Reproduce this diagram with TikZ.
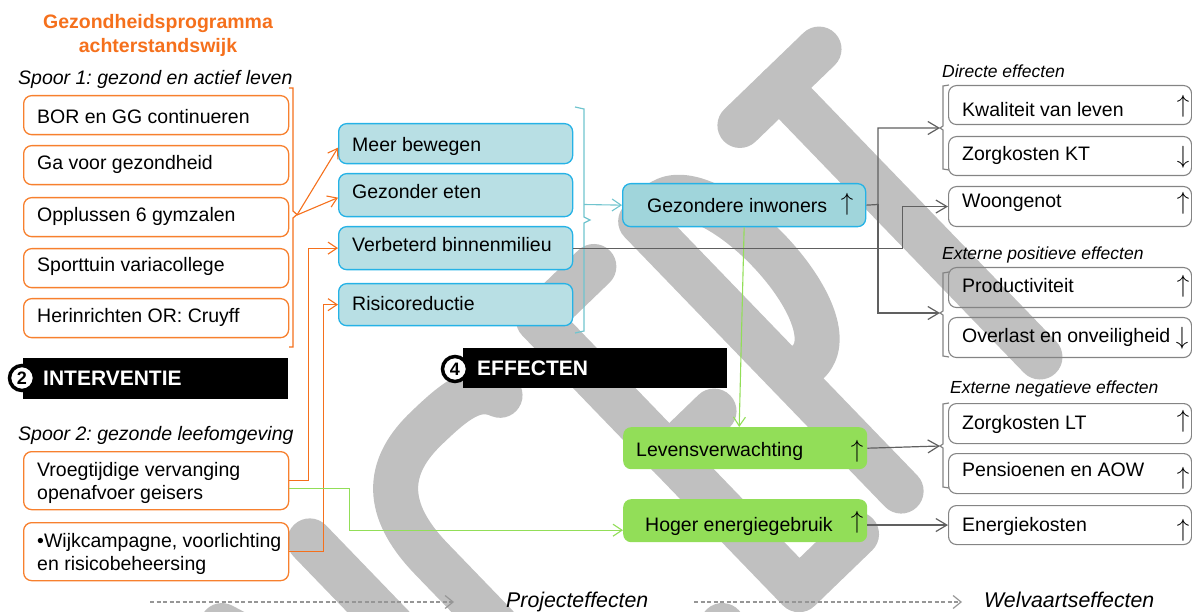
\documentclass[tikz,border=0pt]{standalone}
\usepackage{fontspec}
\setmainfont{Liberation Sans}
\usetikzlibrary{arrows.meta}
\frenchspacing

\definecolor{orangeT}{RGB}{245,112,28}
\definecolor{orangeL}{RGB}{247,128,46}
\definecolor{blueB}{RGB}{37,178,230}
\definecolor{blueF}{RGB}{184,223,228}
\definecolor{blueG}{RGB}{160,213,219}
\definecolor{tealL}{RGB}{112,196,206}
\definecolor{greenF}{RGB}{146,222,88}
\definecolor{greenL}{RGB}{146,222,88}
\definecolor{grayL}{RGB}{96,96,96}
\definecolor{grayB}{RGB}{132,132,132}
\definecolor{wmark}{RGB}{192,192,192}
\definecolor{dashG}{RGB}{150,150,150}

\tikzset{
  txt/.style={inner sep=0pt, anchor=base west, font=\fontsize{19.5}{23}\selectfont},
  ital/.style={inner sep=0pt, anchor=base west, font=\fontsize{19.5}{23}\selectfont\itshape},
  smallital/.style={inner sep=0pt, anchor=base west, font=\fontsize{17.5}{20}\selectfont\itshape},
  bigital/.style={inner sep=0pt, anchor=base west, font=\fontsize{21.3}{24}\selectfont\itshape},
  titletxt/.style={inner sep=0pt, anchor=base, text=orangeT, font=\fontsize{19.5}{23}\selectfont\bfseries},
  bartxt/.style={inner sep=0pt, anchor=base west, text=white, font=\fontsize{21}{24}\selectfont\bfseries},
  arrglyph/.style={inner sep=0pt, font=\fontsize{23}{23}\selectfont},
  boxbase/.style={inner sep=0pt, anchor=north west, rounded corners=8pt},
  obox/.style={boxbase, draw=orangeL, line width=1.3pt, fill=white, minimum width=265pt},
  bbox/.style={boxbase, draw=blueB, line width=1.3pt, fill=blueF, minimum width=234pt},
  gibox/.style={boxbase, draw=blueB, line width=1.3pt, fill=blueG, minimum width=243pt, minimum height=43pt},
  grbox/.style={boxbase, fill=greenF, minimum width=244pt},
  rbox/.style={boxbase, draw=grayB, line width=1.1pt, minimum width=243pt},
  blackbar/.style={inner sep=0pt, anchor=north west, fill=black},
  numdisc/.style={circle, draw=black, line width=3.5pt, fill=white, minimum size=25pt, inner sep=0pt, font=\fontsize{18}{18}\selectfont\bfseries},
  oarrow/.style={draw=orangeT, line width=1.1pt, -{Straight Barb[length=9pt,width=12pt]}},
  tarrow/.style={draw=tealL, line width=1.1pt, -{Straight Barb[length=9pt,width=12pt]}},
  grarrow/.style={draw=greenL, line width=1.1pt, -{Straight Barb[length=9pt,width=12pt]}},
  garrow/.style={draw=grayL, line width=1.2pt, -{Straight Barb[length=11pt,width=13pt]}},
  dasharrow/.style={draw=dashG, line width=1.2pt, dash pattern=on 4pt off 2.5pt, -{Straight Barb[length=8pt,width=13pt]}},
  brace/.style={line width=1.2pt},
  wmstroke/.style={draw=wmark, line width=45pt, line cap=round, line join=round},
}

\begin{document}
\begin{tikzpicture}[x=1pt, y=-1pt]
\useasboundingbox (0,0) rectangle (1192,612);

% background watermark: the word CONCEPT, drawn as rounded strokes on a tilted baseline
\begin{scope}
  \clip (0,0) rectangle (1192,612);
  \begin{scope}[shift={(1055.6,373.2)}, rotate=44, x=1pt, y=1pt]
    % N
    \draw[wmstroke] (-775,22.5) -- (-775,397.5) -- (-653,22.5) -- (-653,397.5);
    % C
    \draw[wmstroke] (-415,370) .. controls (-425,395) and (-450,397.5) .. (-492,397.5)
      .. controls (-555,397.5) and (-578,360) .. (-578,300) -- (-578,120)
      .. controls (-578,60) and (-555,22.5) .. (-492,22.5)
      .. controls (-450,22.5) and (-425,25) .. (-415,50);
    % E
    \draw[wmstroke] (-258,397.5) -- (-335,397.5) -- (-335,22.5) -- (-255,22.5);
    \draw[wmstroke] (-335,210) -- (-272,210);
    % P
    \draw[wmstroke] (-193,22.5) -- (-193,397.5) -- (-170,397.5)
      .. controls (-105,397.5) and (-105,180) .. (-170,180) -- (-193,180);
    % T
    \draw[wmstroke] (0,22.5) -- (0,397.5);
    \draw[wmstroke] (-55,397.5) -- (55,397.5);
  \end{scope}
\end{scope}

% ---------- interventions ----------
\node[titletxt] (t1) at (158,28.5) {Gezondheidsprogramma};
\node[titletxt] (t2) at (158,52.5) {achterstandswijk};

\node[ital] (sp1) at (18,85) {Spoor 1: gezond en actief leven};

\node[obox, minimum height=39pt] (bor) at (23,95) {};
\node[obox, minimum height=39pt] (gav) at (23,145) {};
\node[obox, minimum height=39pt] (opp) at (23,197) {};
\node[obox, minimum height=39pt] (spt) at (23,248) {};
\node[obox, minimum height=39pt] (her) at (23,298) {};
\node[txt] (borT) at (37,124) {BOR en GG continueren};
\node[txt] (gavT) at (37,170) {Ga voor gezondheid};
\node[txt] (oppT) at (37,222) {Opplussen 6 gymzalen};
\node[txt] (sptT) at (37,272) {Sporttuin variacollege};
\node[txt] (herT) at (37,323) {Herinrichten OR: Cruyff};

% right brace behind track 1
\draw[brace, orangeT] (289,88) -- (293,88) -- (293,211) -- (297,214.5) -- (293,218) -- (293,347) -- (289,347);
\coordinate (ob) at (297,215);

\node[blackbar, minimum width=265pt, minimum height=41pt] (ivbar) at (23,358) {};
\node[numdisc] (iv2) at (22,378) {2};
\node[bartxt] (ivT) at (43,385.5) {INTERVENTIE};

\node[ital] (sp2) at (18,440) {Spoor 2: gezonde leefomgeving};

\node[obox, minimum height=58pt] (vr) at (23,451) {};
\node[txt] (vrT1) at (37,476) {Vroegtijdige vervanging};
\node[txt] (vrT2) at (37,499) {openafvoer geisers};
\node[obox, minimum height=58pt] (wk) at (23,522) {};
\node[txt] (wkT1) at (37,547) {•Wijkcampagne, voorlichting};
\node[txt] (wkT2) at (37,570) {en risicobeheersing};

% ---------- project effects ----------
\node[bbox, minimum height=40pt] (mb) at (338,123) {};
\node[bbox, minimum height=43pt] (ge) at (338,173) {};
\node[bbox, minimum height=43pt] (vb) at (338,226) {};
\node[bbox, minimum height=42pt] (rr) at (338,283) {};
\node[txt] (mbT) at (352,151.5) {Meer bewegen};
\node[txt] (geT) at (352,199) {Gezonder eten};
\node[txt] (vbT) at (352,251.5) {Verbeterd binnenmilieu};
\node[txt] (rrT) at (352,311) {Risicoreductie};

\draw[brace, tealL] (575,107) -- (584,109) -- (584,217) -- (590,220) -- (584,223) -- (584,331) -- (575,333);
\coordinate (tb) at (584,204.5);

\node[gibox] (gi) at (622,183) {};
\node[txt] (giT) at (647,212.5) {Gezondere inwoners};
\node[arrglyph] (giA) at (847,204) {$\uparrow$};

\node[grbox, minimum height=42pt] (lv) at (623,427) {};
\node[txt] (lvT) at (636,456.5) {Levensverwachting};
\node[arrglyph] (lvA) at (857,451) {$\uparrow$};

\node[grbox, minimum height=43pt] (he) at (623,499) {};
\node[txt] (heT) at (645,531.5) {Hoger energiegebruik};
\node[arrglyph] (heA) at (857,522) {$\uparrow$};

\node[blackbar, minimum width=264pt, minimum height=40pt] (efbar) at (463,348) {};
\node[numdisc] (ef4) at (455,369) {4};
\node[bartxt] (efT) at (477,376) {EFFECTEN};

% ---------- welfare effects ----------
\node[smallital] (dirL) at (942,78) {Directe effecten};
\node[smallital] (posL) at (942,260) {Externe positieve effecten};
\node[smallital] (negL) at (950,393) {Externe negatieve effecten};

\node[rbox, minimum height=39pt] (kw) at (948,85) {};
\node[rbox, minimum height=39pt] (zk) at (948,136) {};
\node[rbox, minimum height=40pt] (wo) at (948,186) {};
\node[rbox, minimum height=40pt] (pr) at (948,267) {};
\node[rbox, minimum height=40pt] (ov) at (948,317) {};
\node[rbox, minimum height=40pt] (zl) at (948,403) {};
\node[rbox, minimum height=40pt] (pe) at (948,453) {};
\node[rbox, minimum height=39pt] (ek) at (948,505) {};

\node[txt] (kwT) at (962,117) {Kwaliteit van leven};
\node[txt] (zkT) at (962,160.5) {Zorgkosten KT};
\node[txt] (woT) at (962,207.5) {Woongenot};
\node[txt] (prT) at (962,293) {Productiviteit};
\node[txt] (ovT) at (962,343) {Overlast en onveiligheid};
\node[txt] (zlT) at (962,429) {Zorgkosten LT};
\node[txt] (peT) at (962,476) {Pensioenen en AOW};
\node[txt] (ekT) at (962,531.5) {Energiekosten};

\node[arrglyph] (kwA) at (1183,106) {$\uparrow$};
\node[arrglyph] (zkA) at (1183,157) {$\downarrow$};
\node[arrglyph] (woA) at (1183,203) {$\uparrow$};
\node[arrglyph] (prA) at (1183,286) {$\uparrow$};
\node[arrglyph] (ovA) at (1182,338) {$\downarrow$};
\node[arrglyph] (zlA) at (1183,421) {$\uparrow$};
\node[arrglyph] (peA) at (1183,478) {$\uparrow$};
\node[arrglyph] (ekA) at (1183,530) {$\uparrow$};

% left braces of the effect groups
\draw[brace, grayB] (949,85) -- (943,86) -- (943,126) -- (940,128) -- (943,130) -- (943,169) -- (949,170);
\draw[brace, grayB] (949,272) -- (943,273) -- (943,311) -- (940,313) -- (943,315) -- (943,356) -- (949,357);
\draw[brace, grayB] (949,403) -- (943,404) -- (943,444) -- (940,446) -- (943,448) -- (943,487) -- (949,488);
\coordinate (dirB) at (940,128);
\coordinate (posB) at (940,313);
\coordinate (negB) at (940,446);

% ---------- connectors ----------
\draw[oarrow] (ob) -- ([yshift=-4pt]mb.west);
\draw[oarrow] (ob) -- ([yshift=-2.5pt]ge.west);
\draw[oarrow] (vr.east) -- ++(19,0) |- (vb.west);
\draw[oarrow] (wk.east) -- ++(34,0) |- (rr.west);

\draw[grarrow] ([yshift=-8pt]vr.east) -- ++(60,0) |- ([yshift=-9.5pt]he.west);
\draw[grarrow] (gi.south) -- ([xshift=-6pt]lv.north);

\draw[tarrow] (tb) -- (gi.west);

\coordinate (gj) at (878,204.5);
\draw[garrow] (gi.east) -- (gj) |- (dirB);
\draw[garrow] (gj) |- (posB);
\draw[garrow] (vb.east) -- ++(329,0) |- (wo.west);
\draw[garrow] (lv.east) -- (negB);
\draw[garrow] (he.east |- ek.west) -- (ek.west);

% ---------- bottom legend ----------
\coordinate (pa) at (150,602);
\coordinate (pb) at (454,602);
\coordinate (wa) at (694,602);
\coordinate (wb) at (962,602);
\draw[dasharrow] (pa) -- (pb);
\draw[dasharrow] (wa) -- (wb);
\node[bigital] (projL) at (506,607.6) {Projecteffecten};
\node[bigital] (welvL) at (984,607.6) {Welvaartseffecten};
\end{tikzpicture}
\end{document}
